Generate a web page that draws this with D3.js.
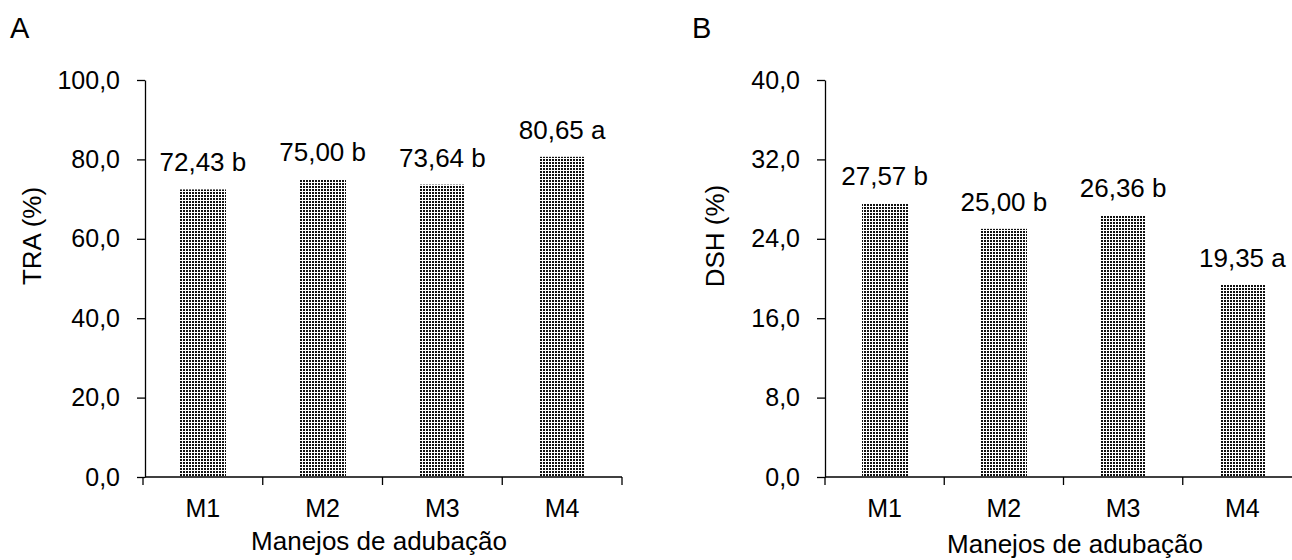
<!DOCTYPE html>
<html>
<head>
<meta charset="utf-8">
<script src="https://cdn.jsdelivr.net/npm/d3@7"></script>
<style>
  html, body { margin: 0; padding: 0; background: #fff; }
  svg { display: block; }
  text { font-family: "Liberation Sans", Arial, Helvetica, sans-serif; fill: #000; }
</style>
</head>
<body>
<svg id="chart" width="1292" height="560"></svg>
<script>
// ---- data ----
const categories = ["M1", "M2", "M3", "M4"];
const traValues = [72.43, 75.00, 73.64, 80.65];
const traLetters = ["b", "b", "b", "a"];
const dshValues = [27.57, 25.00, 26.36, 19.35];
const dshLetters = ["b", "b", "b", "a"];
const traTicks = [0, 20, 40, 60, 80, 100];
const dshTicks = [0, 8, 16, 24, 32, 40];
const panelLabels = ["A", "B"];
const yTitles = ["TRA (%)", "DSH (%)"];
const xTitle = "Manejos de adubação";

const locale = d3.formatLocale({ decimal: ",", thousands: ".", grouping: [3], currency: ["", ""] });
const fmtTick = locale.format(".1f");
const fmtVal = locale.format(".2f");

const svg = d3.select("#chart");

// dotted pattern
const defs = svg.append("defs");
const pat = defs.append("pattern")
  .attr("id", "dots")
  .attr("patternUnits", "userSpaceOnUse")
  .attr("width", 3).attr("height", 3);
pat.append("rect").attr("x", 0).attr("y", 0).attr("width", 2).attr("height", 2).attr("fill", "#111");

function panel(cfg) {
  const g = svg.append("g");
  const x = d3.scaleBand().domain(categories).range([cfg.x0, cfg.x1])
    .paddingInner(0.617).paddingOuter(0.617 / 2);
  const y = d3.scaleLinear().domain([cfg.ticks[0], cfg.ticks[cfg.ticks.length - 1]]).range([477, 80]);

  // panel letter
  g.append("text").attr("x", cfg.letterX).attr("y", 38)
    .attr("font-size", 29).text(cfg.letter);

  // bars
  g.selectAll("rect.bar").data(cfg.values).join("rect")
    .attr("class", "bar")
    .attr("x", (d, i) => Math.round(x(categories[i])))
    .attr("width", Math.round(x.bandwidth()))
    .attr("y", d => y(d))
    .attr("height", d => y(0) - y(d))
    .attr("fill", "url(#dots)");

  // value labels
  g.selectAll("text.val").data(cfg.values).join("text")
    .attr("class", "val")
    .attr("x", (d, i) => x(categories[i]) + x.bandwidth() / 2)
    .attr("y", d => y(d) - 18)
    .attr("text-anchor", "middle")
    .attr("font-size", 26)
    .text((d, i) => fmtVal(d) + " " + cfg.letters[i]);

  // y axis
  const yAxis = d3.axisLeft(y).tickValues(cfg.ticks).tickFormat(fmtTick)
    .tickSize(8).tickSizeOuter(0).tickPadding(17);
  const ya = g.append("g").attr("transform", `translate(${cfg.yAxisX},0)`).call(yAxis);
  ya.select(".domain").attr("stroke", "#000").attr("stroke-width", 1.3);
  ya.selectAll(".tick line").attr("stroke", "#000").attr("stroke-width", 1.3);
  ya.selectAll(".tick text").attr("font-size", 25)
    .attr("font-family", '"Liberation Sans", Arial, sans-serif').attr("fill", "#000");

  // x axis
  const step = x.step();
  const gap = step - x.bandwidth();
  const bounds = categories.map(c => x(c) - gap / 2).concat([x(categories[3]) + x.bandwidth() + gap / 2]);
  g.append("line").attr("x1", cfg.yAxisX).attr("x2", bounds[bounds.length - 1])
    .attr("y1", y(0)).attr("y2", y(0)).attr("stroke", "#000").attr("stroke-width", 1.3);
  g.selectAll("line.xt").data(bounds).join("line")
    .attr("class", "xt")
    .attr("x1", d => d).attr("x2", d => d)
    .attr("y1", y(0)).attr("y2", y(0) + 8)
    .attr("stroke", "#000").attr("stroke-width", 1.3);
  g.selectAll("text.cat").data(categories).join("text")
    .attr("class", "cat")
    .attr("x", d => x(d) + x.bandwidth() / 2)
    .attr("y", 517)
    .attr("text-anchor", "middle")
    .attr("font-size", 25)
    .text(d => d);

  // x title
  g.append("text").attr("x", cfg.xTitleX).attr("y", cfg.xTitleY)
    .attr("text-anchor", "middle").attr("font-size", 26).text(xTitle);

  // y title
  g.append("text")
    .attr("transform", `translate(${cfg.yTitleX},${236}) rotate(-90)`)
    .attr("text-anchor", "middle").attr("font-size", 26).text(cfg.yTitle);
}

panel({
  letter: panelLabels[0], letterX: 10,
  x0: 143, x1: 622, yAxisX: 145,
  values: traValues, letters: traLetters, ticks: traTicks,
  xTitleX: 379, xTitleY: 550, yTitleX: 41, yTitle: yTitles[0]
});
panel({
  letter: panelLabels[1], letterX: 692,
  x0: 825, x1: 1302, yAxisX: 825,
  values: dshValues, letters: dshLetters, ticks: dshTicks,
  xTitleX: 1075, xTitleY: 553, yTitleX: 724, yTitle: yTitles[1]
});
</script>
</body>
</html>
